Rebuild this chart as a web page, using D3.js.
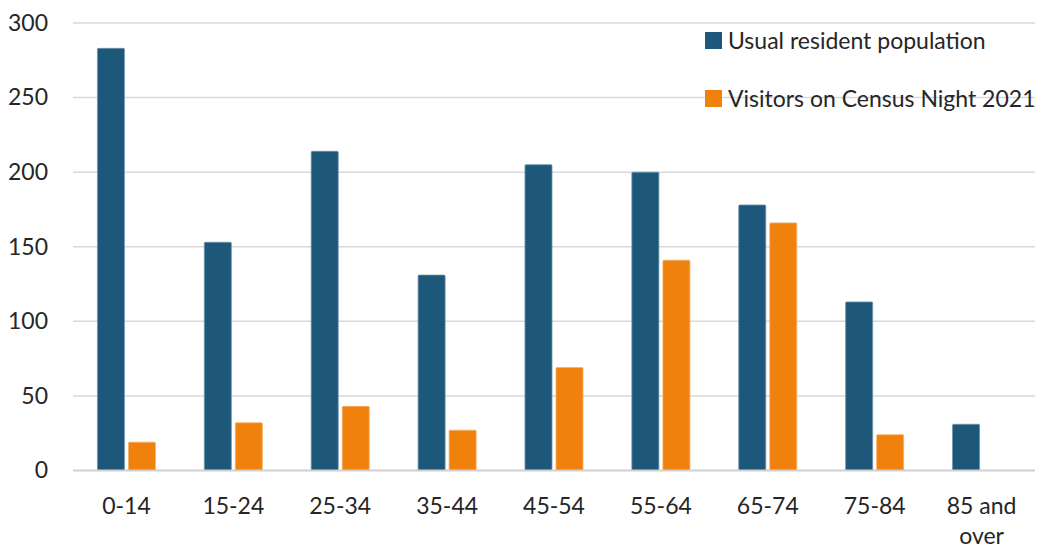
<!DOCTYPE html>
<html>
<head>
<meta charset="utf-8">
<script src="https://cdn.jsdelivr.net/npm/d3@7"></script>
<style>
  html, body { margin: 0; padding: 0; background: #fff; }
  svg { display: block; font-family: Lato, "Open Sans", sans-serif; }
</style>
</head>
<body>
<svg id="chart" width="1050" height="549"></svg>
<script>
// Age groups and counts by series
const ageGroups = ["0-14", "15-24", "25-34", "35-44", "45-54", "55-64", "65-74", "75-84", "85 and over"];
const seriesNames = ["Usual resident population", "Visitors on Census Night 2021"];
const residents = [283, 153, 214, 131, 205, 200, 178, 113, 31];
const visitors = [19, 32, 43, 27, 69, 141, 166, 24, 0];
const yTicks = [0, 50, 100, 150, 200, 250, 300];
const seriesColors = ["#1d5779", "#ef810c"];

const svg = d3.select("#chart");
const margin = { left: 73, right: 15, top: 23, bottom: 78.5 };
const W = 1050, H = 549;
const fontSize = "23px";
const textColor = "#262626";

const rows = ageGroups.map((g, i) => ({ group: g, values: [residents[i], visitors[i]] }));

const x0 = d3.scaleBand()
  .domain(ageGroups)
  .range([margin.left, W - margin.right])
  .paddingInner(0.457)
  .paddingOuter(0.2285);

const x1 = d3.scaleBand()
  .domain([0, 1])
  .range([0, x0.bandwidth()])
  .paddingInner(0.129)
  .paddingOuter(0);

const y = d3.scaleLinear()
  .domain([0, 300])
  .range([H - margin.bottom, margin.top]);

// Horizontal gridlines
svg.append("g")
  .selectAll("line")
  .data(yTicks.filter(d => d > 0))
  .join("line")
  .attr("x1", margin.left)
  .attr("x2", W - margin.right)
  .attr("y1", d => y(d))
  .attr("y2", d => y(d))
  .attr("stroke", "#d9d9d9")
  .attr("stroke-width", 1.5);

// Y axis labels
const yAxis = d3.axisLeft(y).tickValues(yTicks).tickSize(0).tickPadding(0);
const yg = svg.append("g")
  .attr("transform", `translate(${margin.left - 25},0)`)
  .call(yAxis);
yg.select(".domain").remove();
yg.selectAll("text")
  .attr("fill", textColor)
  .style("font-size", fontSize)
  .style("font-family", "Lato, 'Open Sans', sans-serif");

// Bars
const groups = svg.append("g")
  .selectAll("g")
  .data(rows)
  .join("g")
  .attr("transform", d => `translate(${x0(d.group)},0)`);

groups.selectAll("rect")
  .data(d => d.values.map((v, k) => ({ k, v })).filter(e => e.v > 0))
  .join("rect")
  .attr("x", d => x1(d.k))
  .attr("width", x1.bandwidth())
  .attr("y", d => y(d.v))
  .attr("height", d => y(0) - y(d.v))
  .attr("fill", d => seriesColors[d.k])
  .attr("stroke", d => d.k === 0 ? "#6f93ab" : "#f6b16a")
  .attr("stroke-width", 0.8)
  .attr("rx", 1);

// Baseline
svg.append("line")
  .attr("x1", margin.left)
  .attr("x2", W - margin.right)
  .attr("y1", y(0))
  .attr("y2", y(0))
  .attr("stroke", "#d0d0d0")
  .attr("stroke-width", 2);

// X axis labels (wrapped where needed)
const xAxis = d3.axisBottom(x0).tickSize(0).tickPadding(0);
const xg = svg.append("g")
  .attr("transform", `translate(0,${y(0)})`)
  .call(xAxis);
xg.select(".domain").remove();
xg.selectAll("text").each(function (d) {
  const t = d3.select(this);
  t.text(null)
    .attr("y", 44)
    .attr("dy", null)
    .attr("fill", textColor)
    .style("font-size", fontSize)
    .style("font-family", "Lato, 'Open Sans', sans-serif");
  const parts = d === "85 and over" ? ["85 and", "over"] : [d];
  parts.forEach((p, i) => {
    t.append("tspan").attr("x", 0).attr("y", 43 + i * 30).text(p);
  });
});

// Legend
const legend = svg.append("g")
  .selectAll("g")
  .data(seriesNames)
  .join("g")
  .attr("transform", (d, i) => `translate(705,${32 + i * 58})`);
legend.append("rect")
  .attr("width", 17)
  .attr("height", 17)
  .attr("fill", (d, i) => seriesColors[i]);
legend.append("text")
  .attr("x", 23)
  .attr("y", 16.5)
  .attr("fill", textColor)
  .style("font-size", fontSize)
  .text(d => d);
</script>
</body>
</html>
